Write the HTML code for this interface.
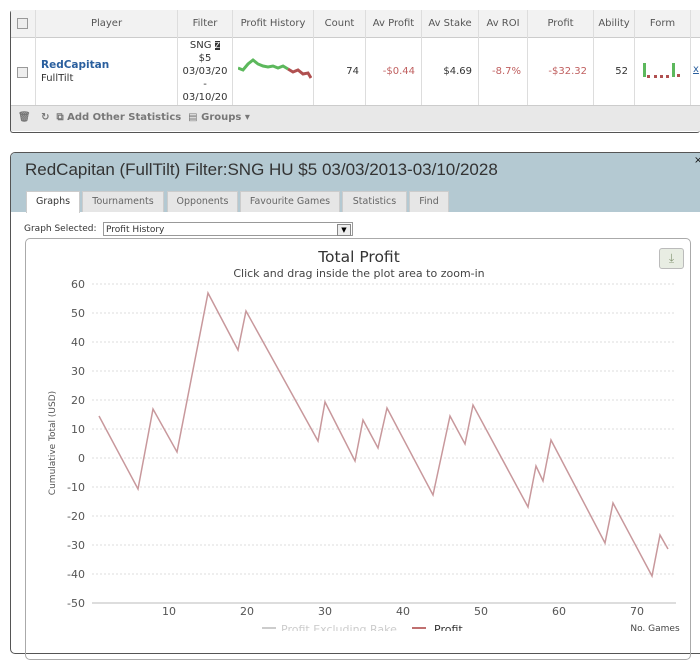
<!DOCTYPE html>
<html><head><meta charset="utf-8"><style>
body{margin:0;width:700px;height:631px;overflow:hidden;background:#fff;font-family:"DejaVu Sans",sans-serif;position:relative}
.a{position:absolute}
.hd{font-size:10px;color:#555;text-align:center}
.cell{position:absolute;top:10px;height:27px;line-height:27px;border-right:1px solid #ddd;text-align:center;font-size:10px;color:#555;background:#f2f2f2}
.dc{position:absolute;top:37px;height:68px;border-right:1px solid #ddd;font-size:10px;display:flex;align-items:center;justify-content:flex-end;padding-right:6px;box-sizing:border-box}
.tab{position:absolute;top:191px;height:20px;line-height:20px;background:#e6e6e6;border:1px solid #ccc;border-bottom:none;font-size:9.5px;color:#666;text-align:center}
.cb{position:absolute;width:9px;height:9px;border:1px solid #999;background:#eee}
</style></head><body>
<div class="a" style="left:10px;top:10px;width:689px;height:121px;border:1px solid #555;border-right:none;border-radius:3px;background:#fff"></div>
<div class="cell" style="left:11px;width:24px"></div><div class="cb" style="left:17px;top:18px"></div>
<div class="cell" style="left:36px;width:141px">Player</div>
<div class="cell" style="left:178px;width:54px">Filter</div>
<div class="cell" style="left:233px;width:80px">Profit History</div>
<div class="cell" style="left:314px;width:51px">Count</div>
<div class="cell" style="left:366px;width:55px">Av Profit</div>
<div class="cell" style="left:422px;width:56px">Av Stake</div>
<div class="cell" style="left:479px;width:48px">Av ROI</div>
<div class="cell" style="left:528px;width:65px">Profit</div>
<div class="cell" style="left:594px;width:40px">Ability</div>
<div class="cell" style="left:635px;width:55px">Form</div>
<div class="cell" style="left:691px;width:9px;border:none"></div>
<div class="a" style="left:11px;top:37px;width:689px;height:1px;background:#ccc"></div>
<div class="dc" style="left:11px;width:25px"></div><div class="cb" style="left:17px;top:67px"></div>
<div class="a" style="left:41px;top:59px;font-size:10.5px;font-weight:bold;color:#2a5f9e">RedCapitan</div>
<div class="a" style="left:41px;top:73px;font-size:10px;color:#333">FullTilt</div>
<div class="dc" style="left:177px;width:56px;border-left:1px solid #ddd"></div>
<div class="a" style="left:178px;top:39px;width:54px;text-align:center;font-size:10px;line-height:13px;color:#333">SNG <span style="background:#333;color:#fff;font-size:8px">Z</span><br>$5<br>03/03/20<br>-<br>03/10/20</div>
<svg class="a" style="left:238px;top:58px" width="74" height="24"><polyline points="0,10 5,12 10,6 15,2 20,6 25,8 30,9 35,8 40,10 45,8 50,11" fill="none" stroke="#5cb85c" stroke-width="3"/><polyline points="50,11 55,14 60,12 65,16 70,15 73,20" fill="none" stroke="#b05050" stroke-width="3"/></svg>
<div class="dc" style="left:313px;width:53px;border-left:1px solid #ddd;color:#333">74</div>
<div class="dc" style="left:366px;width:56px;color:#c06060">-$0.44</div>
<div class="dc" style="left:422px;width:57px;color:#333">$4.69</div>
<div class="dc" style="left:479px;width:49px;color:#c06060">-8.7%</div>
<div class="dc" style="left:528px;width:66px;color:#c06060">-$32.32</div>
<div class="dc" style="left:594px;width:41px;color:#333">52</div>
<div class="dc" style="left:635px;width:56px"></div>
<div class="a" style="left:643px;top:63px;width:3px;height:14px;background:#5cb85c"></div>
<div class="a" style="left:647px;top:75px;width:22px;height:3px;border-top:3px dotted #b05050"></div>
<div class="a" style="left:672px;top:63px;width:3px;height:14px;background:#5cb85c"></div>
<div class="a" style="left:677px;top:74px;width:3px;height:3px;background:#b05050"></div>
<div class="a" style="left:693px;top:64px;font-size:10px;color:#2a5f9e;text-decoration:underline">x</div>
<div class="a" style="left:11px;top:105px;width:689px;height:25px;background:#e8e8e8;border-top:1px solid #ccc"></div>
<div class="a" style="left:18px;top:112px;font-size:10px;color:#777;font-weight:bold">🗑&nbsp;&nbsp; ↻ &nbsp;⧉ Add Other Statistics &nbsp;▤ Groups ▾</div>

<div class="a" style="left:10px;top:152px;width:700px;height:500px;border:1px solid #555;border-radius:5px;background:#fff"></div>
<div class="a" style="left:11px;top:153px;width:689px;height:59px;background:#b4c9d2;border-radius:4px 0 0 0"></div>
<div class="a" style="left:25px;top:160px;font-family:'Liberation Sans',sans-serif;font-size:17px;color:#333">RedCapitan (FullTilt) Filter:SNG HU $5 03/03/2013-03/10/2028</div>
<div class="a" style="left:694px;top:155px;font-size:10px;color:#111">×</div>
<div class="tab" style="left:26px;width:52px;background:#fff;color:#333;height:21px">Graphs</div>
<div class="tab" style="left:82px;width:80px">Tournaments</div>
<div class="tab" style="left:167px;width:69px">Opponents</div>
<div class="tab" style="left:240px;width:98px">Favourite Games</div>
<div class="tab" style="left:342px;width:63px">Statistics</div>
<div class="tab" style="left:409px;width:38px">Find</div>
<div class="a" style="left:24px;top:224px;font-size:9px;color:#333">Graph Selected:</div>
<div class="a" style="left:103px;top:222px;width:248px;height:14px;border:1px solid #999;font-size:9px;line-height:14px;color:#333;padding-left:2px;box-sizing:border-box;width:250px">Profit History</div>
<div class="a" style="left:337px;top:224px;width:12px;height:10px;border:1px solid #888;background:#eee;font-size:7px;text-align:center;line-height:10px">▼</div>
<div class="a" style="left:25px;top:238px;width:664px;height:420px;border:1px solid #aaa;border-radius:5px"></div>
<div class="a" style="left:659px;top:248px;width:23px;height:19px;border:1px solid #bbb;border-radius:3px;background:#e8ede3;color:#8a9a7a;font-size:12px;text-align:center;line-height:19px">⤓</div>
<svg class="a" style="left:0;top:0" width="700" height="631" font-family="DejaVu Sans,sans-serif">
<text x="359" y="262" font-size="15.5" fill="#333" text-anchor="middle">Total Profit</text>
<text x="359" y="277" font-size="11" fill="#444" text-anchor="middle">Click and drag inside the plot area to zoom-in</text>
<g stroke="#ddd" stroke-dasharray="2,2">
<line x1="92" x2="676" y1="284" y2="284"/><line x1="92" x2="676" y1="313" y2="313"/><line x1="92" x2="676" y1="342" y2="342"/><line x1="92" x2="676" y1="371" y2="371"/><line x1="92" x2="676" y1="400" y2="400"/><line x1="92" x2="676" y1="429" y2="429"/><line x1="92" x2="676" y1="458" y2="458"/><line x1="92" x2="676" y1="487" y2="487"/><line x1="92" x2="676" y1="516" y2="516"/><line x1="92" x2="676" y1="545" y2="545"/><line x1="92" x2="676" y1="574" y2="574"/></g>
<line x1="92" x2="676" y1="603" y2="603" stroke="#bbb"/>
<g font-size="11" fill="#555" text-anchor="end">
<text x="85" y="288">60</text><text x="85" y="317">50</text><text x="85" y="346">40</text><text x="85" y="375">30</text><text x="85" y="404">20</text><text x="85" y="433">10</text><text x="85" y="462">0</text><text x="85" y="491">-10</text><text x="85" y="520">-20</text><text x="85" y="549">-30</text><text x="85" y="578">-40</text><text x="85" y="607">-50</text></g>
<g font-size="11" fill="#555" text-anchor="middle">
<text x="169" y="615">10</text><text x="247" y="615">20</text><text x="325" y="615">30</text><text x="403" y="615">40</text><text x="481" y="615">50</text><text x="559" y="615">60</text><text x="637" y="615">70</text></g>
<text transform="translate(55,443) rotate(-90)" font-size="9" fill="#555" text-anchor="middle">Cumulative Total (USD)</text>
<text x="655" y="631" font-size="9" fill="#444" text-anchor="middle">No. Games</text>
<line x1="262" x2="276" y1="628" y2="628" stroke="#ccc" stroke-width="2"/>
<text x="281" y="633" font-size="11" fill="#ccc">Profit Excluding Rake</text>
<line x1="412" x2="426" y1="628" y2="628" stroke="#c07070" stroke-width="2"/>
<text x="434" y="633" font-size="11" fill="#333">Profit</text>
<polyline fill="none" stroke="#c8989c" stroke-width="1.5" points="99,416 138,489 153,409 177,452 208,293 238,350 246,311 318,441 325,402 355,461 363,420 378,448 387,408 433,495 450,416 465,444 473,405 528,507 536,466 543,481 551,440 605,543 613,503 652,576 660,535 668,549"/>
</svg>
</body></html>
